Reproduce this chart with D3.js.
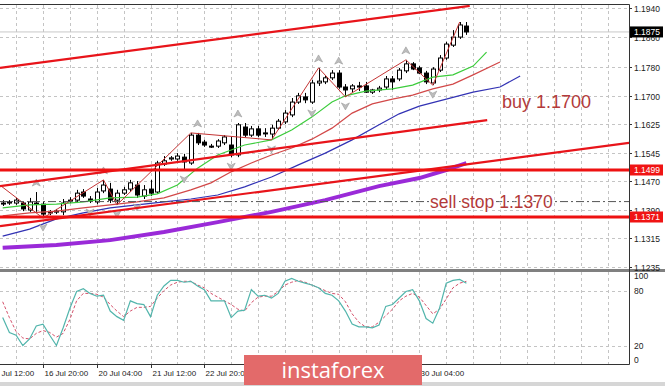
<!DOCTYPE html>
<html>
<head>
<meta charset="utf-8">
<script src="https://cdn.jsdelivr.net/npm/d3@7"></script>
<style>
  body { margin: 0; background: #fff; }
  svg { display: block; font-family: "Liberation Sans", Arial, sans-serif; }
</style>
</head>
<body>
<div id="chart"></div>
<script>
// H4 bars, bar 0 = 16 Jul 20:00, first visible bar is -6
var firstBar = -6;
var opens = [1.1409,1.1409,1.1409,1.1409,1.1390,1.1409,1.1406,1.1385,1.1385,1.1385,1.1415,1.1417,1.1439,1.1420,1.1412,1.1442,1.1447,1.1417,1.1436,1.1447,1.1458,1.1428,1.1447,1.1439,1.1515,1.1529,1.1529,1.1534,1.1518,1.1594,1.1575,1.1564,1.1564,1.1573,1.1567,1.1540,1.1616,1.1594,1.1611,1.1600,1.1597,1.1613,1.1630,1.1649,1.1684,1.1698,1.1684,1.1736,1.1739,1.1750,1.1763,1.1725,1.1720,1.1728,1.1728,1.1711,1.1717,1.1725,1.1747,1.1747,1.1769,1.1788,1.1777,1.1763,1.1736,1.1771,1.1804,1.1839,1.1861,1.1891];
var highs = [1.1417,1.1417,1.1423,1.1412,1.1423,1.1439,1.1412,1.1390,1.1393,1.1420,1.1425,1.1445,1.1447,1.1428,1.1450,1.1472,1.1464,1.1445,1.1453,1.1472,1.1469,1.1458,1.1472,1.1524,1.1537,1.1537,1.1545,1.1543,1.1600,1.1600,1.1581,1.1570,1.1583,1.1594,1.1589,1.1627,1.1627,1.1619,1.1619,1.1613,1.1622,1.1638,1.1662,1.1695,1.1709,1.1709,1.1744,1.1777,1.1755,1.1771,1.1771,1.1733,1.1733,1.1739,1.1739,1.1720,1.1728,1.1755,1.1755,1.1777,1.1799,1.1793,1.1782,1.1769,1.1779,1.1812,1.1848,1.1880,1.1902,1.1902];
var lows = [1.1401,1.1404,1.1404,1.1387,1.1385,1.1385,1.1368,1.1376,1.1379,1.1376,1.1409,1.1409,1.1423,1.1409,1.1406,1.1436,1.1409,1.1404,1.1431,1.1439,1.1423,1.1420,1.1428,1.1434,1.1510,1.1524,1.1524,1.1499,1.1513,1.1567,1.1562,1.1559,1.1559,1.1567,1.1534,1.1534,1.1589,1.1589,1.1589,1.1589,1.1581,1.1608,1.1624,1.1643,1.1679,1.1681,1.1679,1.1728,1.1733,1.1744,1.1720,1.1698,1.1711,1.1714,1.1709,1.1706,1.1711,1.1717,1.1717,1.1741,1.1763,1.1771,1.1760,1.1733,1.1730,1.1766,1.1799,1.1834,1.1856,1.1867];
var closes = [1.1408,1.1412,1.1417,1.1393,1.1412,1.1406,1.1379,1.1382,1.1387,1.1409,1.1417,1.1436,1.1428,1.1415,1.1439,1.1458,1.1417,1.1436,1.1445,1.1464,1.1431,1.1445,1.1436,1.1518,1.1524,1.1532,1.1537,1.1521,1.1594,1.1573,1.1567,1.1563,1.1578,1.1589,1.1540,1.1622,1.1594,1.1611,1.1594,1.1598,1.1613,1.1632,1.1654,1.1684,1.1701,1.1690,1.1736,1.1741,1.1750,1.1763,1.1725,1.1717,1.1728,1.1725,1.1711,1.1717,1.1722,1.1747,1.1739,1.1771,1.1788,1.1774,1.1763,1.1739,1.1774,1.1804,1.1842,1.1861,1.1894,1.1875];

// Alligator lines + slow MA, [bar, price]
var lips = [[-6,1.1396],[-2,1.1404],[2,1.1406],[6,1.1412],[10,1.1423],[14,1.1425],[17,1.1434],[20,1.1458],[23,1.1504],[26,1.1540],[30,1.1567],[34,1.1581],[37,1.1608],[40,1.1643],[43,1.1684],[45,1.1701],[48,1.1714],[52,1.1720],[55,1.1730],[58,1.1752],[61,1.1758],[64,1.1782],[66,1.1820]];
var teeth = [[-6,1.1374],[-2,1.1382],[2,1.1387],[6,1.1396],[10,1.1404],[14,1.1412],[18,1.1423],[22,1.1445],[25,1.1464],[28,1.1494],[31,1.1518],[34,1.1540],[37,1.1559],[40,1.1583],[43,1.1613],[46,1.1654],[49,1.1679],[52,1.1692],[55,1.1703],[58,1.1720],[61,1.1733],[64,1.1758],[68,1.1793]];
var jaw = [[-6,1.1319],[-2,1.1338],[2,1.1366],[6,1.1382],[10,1.1396],[14,1.1404],[18,1.1412],[22,1.1420],[26,1.1431],[30,1.1453],[34,1.1480],[38,1.1513],[42,1.1545],[46,1.1581],[50,1.1622],[53,1.1652],[56,1.1673],[60,1.1692],[64,1.1711],[68,1.1725],[71,1.1755]];
var slowMa = [[-6,1.1287],[2,1.1295],[10,1.1308],[18,1.1330],[26,1.1357],[34,1.1385],[42,1.1417],[50,1.1455],[56,1.1477],[60,1.1499],[63,1.1518]];

var zigzag = [[-7,1.1466],[0,1.1368],[9,1.1472],[11,1.1404],[22,1.1600],[34,1.1581],[41,1.1777],[45,1.1698],[54,1.1799],[58,1.1730],[62,1.1902]];
var fractalsUp = [-1, 9, 23, 29, 41, 44, 54];
var fractalsDown = [0, 7, 11, 14, 21, 28, 34, 40, 45, 58];

// trend lines, [bar, price]
var trendLines = [
  [[-6.4,1.1777],[63.5,1.1946]],
  [[-6.4,1.1455],[66.1,1.1635]],
  [[-6.4,1.1346],[87.2,1.1573]]
];
var levels = [1.1499, 1.1371];
var pendingLine = 1.1413;
var bidPrice = 1.1875;

var stochMain = [51,35,32,21,28,42,44,32,21,40,61,79,82,77,74,75,58,52,48,69,66,65,52,75,85,91,91,89,90,85,81,69,69,69,51,58,59,81,74,75,72,77,90,93,90,88,86,83,77,75,69,58,44,41,41,40,43,63,65,72,79,81,69,50,45,61,88,91,92,88];
var stochSignal = [68,51,36,29,28,34,37,35,30,34,49,69,77,77,76,73,65,58,52,58,62,62,63,72,80,86,89,90,90,86,83,77,73,69,65,60,58,67,73,74,74,79,86,89,91,89,86,83,80,77,76,68,55,46,41,41,46,53,60,69,74,77,73,64,55,60,71,83,88,90];

var priceTicks = [1.1940, 1.1860, 1.1780, 1.1700, 1.1625, 1.1545, 1.1470, 1.1390, 1.1315, 1.1235];
var stochTicks = [100, 80, 20, 0];
var timeLabels = ["15 Jul 12:00","16 Jul 20:00","20 Jul 04:00","21 Jul 12:00","22 Jul 20:00","24 Jul 04:00","27 Jul 12:00","28 Jul 20:00","30 Jul 04:00"];
var firstLabelBar = -8;

var W = 665, H = 386;
var plotR = 629, mainTop = 5, mainBot = 269, stTop = 272, stBot = 364;
var logo = { x: 244, y: 355, w: 178, h: 30 };

var svg = d3.select("#chart").append("svg").attr("width", W).attr("height", H);

var x = d3.scaleLinear().domain([0, 63]).range([43, 466.4]);
var y = d3.scaleLinear().domain([1.1371, 1.1499]).range([217, 170]);
var ys = d3.scaleLinear().domain([0, 100]).range([365, 272]);

var defs = svg.append("defs");
defs.append("clipPath").attr("id", "clipMain").append("rect")
  .attr("x", 0).attr("y", mainTop).attr("width", plotR).attr("height", mainBot - mainTop);
defs.append("clipPath").attr("id", "clipSt").append("rect")
  .attr("x", 0).attr("y", stTop).attr("width", plotR).attr("height", stBot - stTop);

var bars = d3.range(opens.length).map(function(k) {
  return { i: k + firstBar, o: opens[k], h: highs[k], l: lows[k], c: closes[k] };
});

// Grid
var grid = svg.append("g").attr("stroke", "#c4c4c4").attr("stroke-dasharray", "3,3").attr("stroke-width", 1);
d3.range(-4, 88, 4).forEach(function(b) {
  var gx = Math.round(x(b)) + 0.5;
  if (gx > plotR) return;
  grid.append("line").attr("x1", gx).attr("x2", gx).attr("y1", mainTop).attr("y2", mainBot);
  grid.append("line").attr("x1", gx).attr("x2", gx).attr("y1", stTop).attr("y2", stBot);
});
priceTicks.forEach(function(p) {
  var gy = Math.round(y(p)) + 0.5;
  grid.append("line").attr("x1", 0).attr("x2", plotR).attr("y1", gy).attr("y2", gy);
});
[80, 20].forEach(function(v) {
  var gy = Math.round(ys(v)) + 0.5;
  grid.append("line").attr("x1", 0).attr("x2", plotR).attr("y1", gy).attr("y2", gy);
});

var main = svg.append("g").attr("clip-path", "url(#clipMain)");

// Bid line
main.append("line").attr("x1", 0).attr("x2", plotR)
  .attr("y1", y(bidPrice)).attr("y2", y(bidPrice))
  .attr("stroke", "#c8c8c8").attr("stroke-width", 1);

// Candles
var cg = main.append("g");
bars.forEach(function(d) {
  var cx = Math.round(x(d.i)) + 0.5;
  cg.append("line").attr("x1", cx).attr("x2", cx)
    .attr("y1", y(d.h)).attr("y2", y(d.l))
    .attr("stroke", "#000").attr("stroke-width", 1);
  var top = Math.min(y(d.o), y(d.c)), bot = Math.max(y(d.o), y(d.c));
  cg.append("rect").attr("x", cx - 2).attr("width", 4)
    .attr("y", top).attr("height", Math.max(bot - top, 1))
    .attr("fill", d.c >= d.o ? "#fff" : "#000")
    .attr("stroke", "#000").attr("stroke-width", 1);
});

// Moving averages
var maLine = d3.line().x(function(d) { return x(d[0]); }).y(function(d) { return y(d[1]); });
main.append("path").attr("d", maLine(slowMa)).attr("fill", "none").attr("stroke", "#9a2ad8").attr("stroke-width", 4);
main.append("path").attr("d", maLine(jaw)).attr("fill", "none").attr("stroke", "#3232b4").attr("stroke-width", 1.2);
main.append("path").attr("d", maLine(teeth)).attr("fill", "none").attr("stroke", "#d24848").attr("stroke-width", 1.2);
main.append("path").attr("d", maLine(lips)).attr("fill", "none").attr("stroke", "#3ccc3c").attr("stroke-width", 1.2);

// Zigzag
main.append("path").attr("d", maLine(zigzag)).attr("fill", "none").attr("stroke", "#c43434").attr("stroke-width", 1);

// Fractals
function arrowPath(cx, cy, dir) {
  return "M" + cx + "," + (cy - 4 * dir) + "L" + (cx + 4) + "," + (cy + 3 * dir) +
    "L" + cx + "," + (cy + 1 * dir) + "L" + (cx - 4) + "," + (cy + 3 * dir) + "Z";
}
fractalsUp.forEach(function(b) {
  var k = b - firstBar;
  main.append("path").attr("d", arrowPath(x(b), y(highs[k]) - 9, 1))
    .attr("fill", "#bdbdbd").attr("stroke", "#9a9a9a").attr("stroke-width", 0.6);
});
fractalsDown.forEach(function(b) {
  var k = b - firstBar;
  main.append("path").attr("d", arrowPath(x(b), y(lows[k]) + 9, -1))
    .attr("fill", "#bdbdbd").attr("stroke", "#9a9a9a").attr("stroke-width", 0.6);
});

// Trend lines and levels
trendLines.forEach(function(t) {
  main.append("line").attr("x1", x(t[0][0])).attr("y1", y(t[0][1]))
    .attr("x2", x(t[1][0])).attr("y2", y(t[1][1]))
    .attr("stroke", "#e8141a").attr("stroke-width", 2.2);
});
main.append("line").attr("x1", 0).attr("x2", plotR)
  .attr("y1", y(pendingLine)).attr("y2", y(pendingLine))
  .attr("stroke", "#555").attr("stroke-width", 1).attr("stroke-dasharray", "8,3,2,3");
levels.forEach(function(p) {
  main.append("line").attr("x1", 0).attr("x2", plotR)
    .attr("y1", y(p)).attr("y2", y(p))
    .attr("stroke", "#ee1111").attr("stroke-width", 3);
});

// Text notes
main.append("text").attr("x", x(68.3)).attr("y", y(1.1668))
  .attr("font-size", 18).attr("fill", "#b33a3a").text("buy 1.1700");
main.append("text").attr("x", x(57.6)).attr("y", y(1.1396))
  .attr("font-size", 17.5).attr("fill", "#b33a3a")
  .attr("stroke", "#fff").attr("stroke-width", 3).attr("paint-order", "stroke")
  .text("sell stop 1.1370");

// Stochastic
var st = svg.append("g").attr("clip-path", "url(#clipSt)");
var stLine = d3.line().x(function(d, k) { return x(k + firstBar); }).y(function(d) { return ys(d); });
st.append("path").attr("d", stLine(stochSignal)).attr("fill", "none")
  .attr("stroke", "#d4506a").attr("stroke-width", 1).attr("stroke-dasharray", "3,2");
st.append("path").attr("d", stLine(stochMain)).attr("fill", "none")
  .attr("stroke", "#52b5ac").attr("stroke-width", 1.2);

// Frame
svg.append("line").attr("x1", 0).attr("x2", plotR + 0.5).attr("y1", mainTop - 0.5).attr("y2", mainTop - 0.5)
  .attr("stroke", "#333").attr("stroke-width", 1);
svg.append("rect").attr("x", 0).attr("y", mainBot).attr("width", W).attr("height", stTop - mainBot)
  .attr("fill", "#808080");
svg.append("line").attr("x1", plotR + 0.5).attr("x2", plotR + 0.5).attr("y1", mainTop - 0.5).attr("y2", stBot + 0.5)
  .attr("stroke", "#333").attr("stroke-width", 1);
svg.append("line").attr("x1", 0).attr("x2", plotR + 0.5).attr("y1", stBot + 0.5).attr("y2", stBot + 0.5)
  .attr("stroke", "#333").attr("stroke-width", 1);
svg.append("rect").attr("x", 0).attr("y", 382).attr("width", W).attr("height", 4).attr("fill", "#d6d6d6");

// Price axis
var ax = svg.append("g").attr("font-size", 8.5).attr("fill", "#222");
priceTicks.forEach(function(p) {
  var ty = Math.round(y(p)) + 0.5;
  ax.append("line").attr("x1", plotR).attr("x2", plotR + 3).attr("y1", ty).attr("y2", ty).attr("stroke", "#333");
  ax.append("text").attr("x", plotR + 5).attr("y", ty + 3).text(p.toFixed(4));
});
function priceBox(p, fill) {
  var by = y(p);
  ax.append("rect").attr("x", plotR + 1).attr("y", by - 5.5).attr("width", 33).attr("height", 11).attr("fill", fill);
  ax.append("text").attr("x", plotR + 5).attr("y", by + 3).attr("fill", "#fff").text(p.toFixed(4));
}
priceBox(bidPrice, "#000");
levels.forEach(function(p) { priceBox(p, "#f01414"); });

stochTicks.forEach(function(v) {
  var ty = ys(v);
  var off = v === 100 ? 7 : (v === 0 ? -2 : 3);
  ax.append("text").attr("x", plotR + 5).attr("y", ty + off).text(v);
});

// Time axis (labels fully under the watermark are not drawn)
timeLabels.forEach(function(t, k) {
  var tx = Math.round(x(firstLabelBar + 8 * k)) + 0.5;
  ax.append("line").attr("x1", tx).attr("x2", tx).attr("y1", stBot).attr("y2", stBot + 4).attr("stroke", "#333");
  if (tx > logo.x && tx + 42 < logo.x + logo.w) return;
  ax.append("text").attr("x", tx + 1).attr("y", stBot + 12).attr("font-size", 8).text(t);
});

// Watermark
svg.append("rect").attr("x", logo.x).attr("y", logo.y).attr("width", logo.w).attr("height", logo.h).attr("fill", "#e36a6a");
svg.append("text").attr("x", logo.x + logo.w / 2).attr("y", 378).attr("text-anchor", "middle")
  .attr("font-family", "'Open Sans', sans-serif").attr("font-size", 22).attr("fill", "#fff")
  .text("instaforex");
</script>
</body>
</html>
